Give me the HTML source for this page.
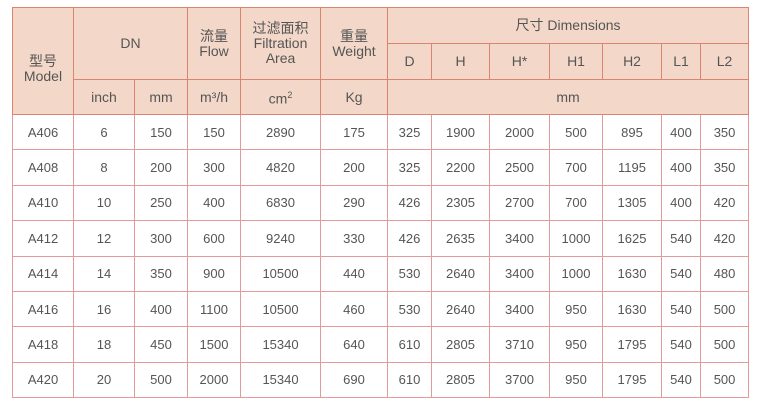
<!DOCTYPE html>
<html><head><meta charset="utf-8"><style>
html,body{margin:0;padding:0;background:#fff;width:761px;height:414px;overflow:hidden}
table{position:absolute;left:12px;top:7px;border-collapse:collapse;table-layout:fixed;width:736px;font-family:"Liberation Sans","Noto Sans CJK SC",sans-serif;font-size:13px;color:#555}
td{border:1px solid #e39a9a;text-align:center;vertical-align:middle;padding:0;line-height:15px}
thead td{background:#f3d8c9;border-color:#dc8470;font-size:14px}
tbody td{height:34.4px}
</style></head><body>
<table>
<colgroup><col style="width:61px"><col style="width:61px"><col style="width:53px"><col style="width:53px"><col style="width:80px"><col style="width:67px"><col style="width:44px"><col style="width:58px"><col style="width:60px"><col style="width:53px"><col style="width:59px"><col style="width:39px"><col style="width:48px"></colgroup>
<thead>
<tr style="height:36px"><td rowspan="3" style="padding-top:16px">型号<br>Model</td><td colspan="2" rowspan="2">DN</td><td rowspan="2">流量<br>Flow</td><td rowspan="2">过滤面积<br>Filtration<br>Area</td><td rowspan="2">重量<br>Weight</td><td colspan="7">尺寸 Dimensions</td></tr>
<tr style="height:36px"><td>D</td><td>H</td><td>H*</td><td>H1</td><td>H2</td><td>L1</td><td>L2</td></tr>
<tr style="height:35px"><td>inch</td><td>mm</td><td>m³/h</td><td>cm<sup style="font-size:9px">2</sup></td><td>Kg</td><td colspan="7">mm</td></tr>
</thead>
<tbody>
<tr><td>A406</td><td>6</td><td>150</td><td>150</td><td>2890</td><td>175</td><td>325</td><td>1900</td><td>2000</td><td>500</td><td>895</td><td>400</td><td>350</td></tr>
<tr><td>A408</td><td>8</td><td>200</td><td>300</td><td>4820</td><td>200</td><td>325</td><td>2200</td><td>2500</td><td>700</td><td>1195</td><td>400</td><td>350</td></tr>
<tr><td>A410</td><td>10</td><td>250</td><td>400</td><td>6830</td><td>290</td><td>426</td><td>2305</td><td>2700</td><td>700</td><td>1305</td><td>400</td><td>420</td></tr>
<tr><td>A412</td><td>12</td><td>300</td><td>600</td><td>9240</td><td>330</td><td>426</td><td>2635</td><td>3400</td><td>1000</td><td>1625</td><td>540</td><td>420</td></tr>
<tr><td>A414</td><td>14</td><td>350</td><td>900</td><td>10500</td><td>440</td><td>530</td><td>2640</td><td>3400</td><td>1000</td><td>1630</td><td>540</td><td>480</td></tr>
<tr><td>A416</td><td>16</td><td>400</td><td>1100</td><td>10500</td><td>460</td><td>530</td><td>2640</td><td>3400</td><td>950</td><td>1630</td><td>540</td><td>500</td></tr>
<tr><td>A418</td><td>18</td><td>450</td><td>1500</td><td>15340</td><td>640</td><td>610</td><td>2805</td><td>3710</td><td>950</td><td>1795</td><td>540</td><td>500</td></tr>
<tr><td>A420</td><td>20</td><td>500</td><td>2000</td><td>15340</td><td>690</td><td>610</td><td>2805</td><td>3700</td><td>950</td><td>1795</td><td>540</td><td>500</td></tr>
</tbody></table>
</body></html>
